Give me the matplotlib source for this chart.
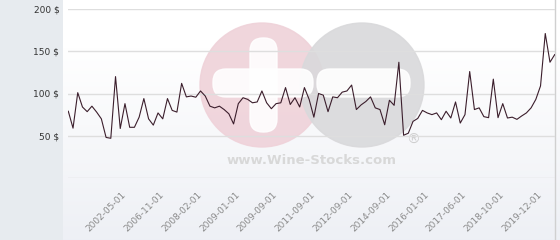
import numpy as np
import matplotlib
matplotlib.use("Agg")
import matplotlib.pyplot as plt
from matplotlib.patches import Circle, FancyBboxPatch, Rectangle
from matplotlib.transforms import Affine2D

# price history (one value per sample)
prices = [79, 59, 101, 84, 78.5, 85, 78, 70, 48, 47,
          120, 58.6, 88, 60, 60, 72, 94, 70, 62.6, 77,
          70, 94, 80, 78, 112, 96, 97, 95.6, 103, 97,
          85, 83, 85, 81, 76, 64, 88, 95, 93, 89,
          90, 103, 89, 82, 88, 89, 107, 87, 95, 84,
          107, 93, 72, 100, 98, 78.5, 96, 95, 101.6, 103,
          110, 81, 86.5, 90.5, 96, 83, 81, 63, 92, 86,
          137, 50.6, 53, 67, 70.5, 80, 77, 75, 77, 69,
          79, 71, 90, 65, 75, 126, 81, 83, 72.6, 71.4,
          117, 71.4, 88, 71, 72, 69.4, 73.4, 77, 83, 93,
          109, 171, 137, 146]
tick_labels = ["2002-05-01", "2006-11-01", "2008-02-01", "2009-01-01",
               "2009-09-01", "2011-09-01", "2012-09-01", "2014-09-01",
               "2016-01-01", "2017-06-01", "2018-10-01", "2019-12-01"]
y_ticks = [0, 50, 100, 150, 200]

W, H = 560, 240
fig = plt.figure(figsize=(W / 100, H / 100), dpi=100)
fig.patch.set_facecolor("white")

# pixel coords -> figure
px = Affine2D().scale(1 / W, -1 / H).translate(0, 1) + fig.transFigure

# left panel
fig.patches.append(Rectangle((0, 0), 63, H, transform=px, color="#e7ebef", zorder=-5))

# background gradient of the plot panel
bg = fig.add_axes([63 / W, 0, 1 - 63 / W, 1], zorder=-2)
bg.set_axis_off()
grad = np.linspace(0, 1, 256).reshape(-1, 1)
top = np.array([0.933, 0.941, 0.961])
bot = np.array([1.0, 1.0, 1.0])
img = top + (bot - top) * np.clip(grad * 1.25, 0, 1)
bg.imshow(img.reshape(256, 1, 3), aspect="auto", extent=[0, 1, 0, 1])
bg.plot([0.99, 0.99], [0, 1], color="#d0d0d0", lw=1)
bg.set_xlim(0, 1)
bg.set_ylim(1, 0)

ax = fig.add_axes([68.3 / W, 1 - 178 / H, (554.7 - 68.3) / W, (178 - 9) / H])
ax.patch.set_alpha(0)

# watermark
wm = dict(transform=px, clip_on=False, zorder=1)
ax.add_patch(Circle((262, 85), 62, color="#efd2d9", alpha=0.9, **wm))
ax.add_patch(Circle((362, 85), 62, color="#d9d9db", alpha=0.9, **wm))
ax.add_patch(FancyBboxPatch((250, 38), 27, 94, boxstyle="round,pad=0,rounding_size=13",
                            color="white", alpha=0.9, **wm))
ax.add_patch(FancyBboxPatch((213, 69), 100, 28, boxstyle="round,pad=0,rounding_size=13",
                            color="white", alpha=0.9, **wm))
ax.add_patch(FancyBboxPatch((317, 69), 93, 28, boxstyle="round,pad=0,rounding_size=13",
                            color="white", alpha=0.9, **wm))
ax.text(312, 161, "www.Wine-Stocks.com", transform=px, ha="center", va="center",
        fontsize=9.5, fontweight="bold", color="#d8d8d8", zorder=1)
ax.text(413, 140, "®", transform=px, ha="center", va="center",
        fontsize=10, color="#cfcfcf", zorder=1)

x = np.arange(len(prices))
ax.plot(x, prices, color="#3b1e2c", lw=0.8, zorder=3)

ax.set_xlim(0, len(prices) - 1)
ax.set_ylim(0, 200)
ax.set_yticks(y_ticks)
ax.set_yticklabels(["" if v == 0 else f"{v} $" for v in y_ticks])
ax.yaxis.grid(True, color="#dedede", lw=1)
tick_idx = list(range(12, len(prices), 8))[:len(tick_labels)]
ax.set_xticks(tick_idx)
ax.set_xticklabels(tick_labels, rotation=45, ha="right", va="center",
                   rotation_mode="anchor")
ax.tick_params(axis="y", length=0, pad=6.5, labelsize=6.5, labelcolor="#333333")
ax.tick_params(axis="x", length=0, pad=11, labelsize=6.5, labelcolor="#8a8a8a")
for s in ax.spines.values():
    s.set_visible(False)

fig.savefig("out.png", dpi=100)
